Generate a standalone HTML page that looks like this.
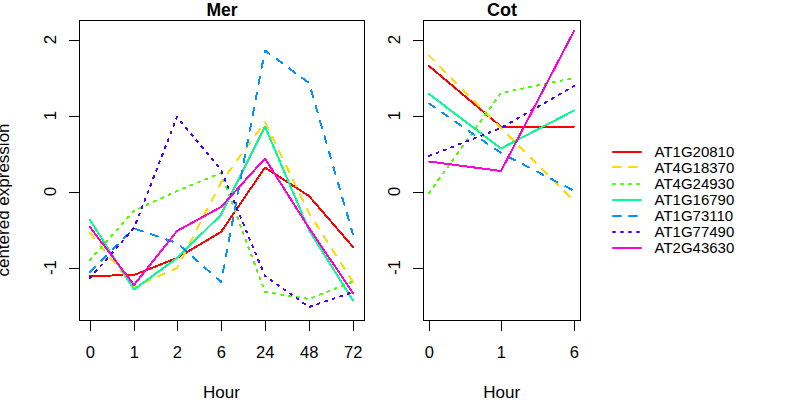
<!DOCTYPE html><html><head><meta charset="utf-8"><style>html,body{margin:0;padding:0;background:#fff;width:800px;height:400px;overflow:hidden}svg{display:block}text{font-family:"Liberation Sans",sans-serif}</style></head><body>
<svg width="800" height="400" viewBox="0 0 800 400">
<rect width="800" height="400" fill="#fff"/>
<polyline points="90,276 134,275 177,258 221,232 265,167.5 309,196 353,247" fill="none" stroke="#FF0000" stroke-width="2" stroke-linecap="round" stroke-linejoin="round" shape-rendering="crispEdges"/>
<polyline points="90,233 134,287 177,268 221,182.5 265,122 309,213 353,282" fill="none" stroke="#FFDB00" stroke-width="2" stroke-linecap="round" stroke-linejoin="round" stroke-dasharray="7 9" shape-rendering="crispEdges"/>
<polyline points="90,260 134,210.7 177,191 221,173 265,292 309,299 353,281.5" fill="none" stroke="#49FF00" stroke-width="2" stroke-linecap="round" stroke-linejoin="round" stroke-dasharray="2 6" shape-rendering="crispEdges"/>
<polyline points="90,220 134,289.5 177,258 221,214.75 265,126.5 309,230 353,300.5" fill="none" stroke="#00FF92" stroke-width="2" stroke-linecap="round" stroke-linejoin="round" shape-rendering="crispEdges"/>
<polyline points="90,272 134,228.5 177,243 221,282 265,50.5 309,83 353,234.5" fill="none" stroke="#0092FF" stroke-width="2" stroke-linecap="round" stroke-linejoin="round" stroke-dasharray="7 9" shape-rendering="crispEdges"/>
<polyline points="90,278 134,228 177,117 221,170 265,276 309,307 353,292" fill="none" stroke="#4900FF" stroke-width="2" stroke-linecap="round" stroke-linejoin="round" stroke-dasharray="2 6" shape-rendering="crispEdges"/>
<polyline points="90,227 134,285 177,231 221,207 265,158.5 309,228 353,293" fill="none" stroke="#FF00DB" stroke-width="2" stroke-linecap="round" stroke-linejoin="round" shape-rendering="crispEdges"/>
<polyline points="429,66 501,126.6 574,126.6" fill="none" stroke="#FF0000" stroke-width="2" stroke-linecap="round" stroke-linejoin="round" shape-rendering="crispEdges"/>
<polyline points="429,55.5 501,128 574,201" fill="none" stroke="#FFDB00" stroke-width="2" stroke-linecap="round" stroke-linejoin="round" stroke-dasharray="7 9" shape-rendering="crispEdges"/>
<polyline points="429,193 501,93 574,78" fill="none" stroke="#49FF00" stroke-width="2" stroke-linecap="round" stroke-linejoin="round" stroke-dasharray="2 6" shape-rendering="crispEdges"/>
<polyline points="429,94 501,148.5 574,110.5" fill="none" stroke="#00FF92" stroke-width="2" stroke-linecap="round" stroke-linejoin="round" shape-rendering="crispEdges"/>
<polyline points="429,103.5 501,153 574,190.7" fill="none" stroke="#0092FF" stroke-width="2" stroke-linecap="round" stroke-linejoin="round" stroke-dasharray="7 9" shape-rendering="crispEdges"/>
<polyline points="429,156 501,128 574,86" fill="none" stroke="#4900FF" stroke-width="2" stroke-linecap="round" stroke-linejoin="round" stroke-dasharray="2 6" shape-rendering="crispEdges"/>
<polyline points="429,161.5 501,171 574,31" fill="none" stroke="#FF00DB" stroke-width="2" stroke-linecap="round" stroke-linejoin="round" shape-rendering="crispEdges"/>
<g stroke="#000" stroke-width="1" fill="none" shape-rendering="crispEdges">
<rect x="79.5" y="20.5" width="285" height="300"/>
<rect x="423.5" y="20.5" width="157" height="300"/>
<line x1="69" y1="40.5" x2="79.5" y2="40.5"/>
<line x1="413" y1="40.5" x2="423.5" y2="40.5"/>
<line x1="69" y1="116.5" x2="79.5" y2="116.5"/>
<line x1="413" y1="116.5" x2="423.5" y2="116.5"/>
<line x1="69" y1="192.5" x2="79.5" y2="192.5"/>
<line x1="413" y1="192.5" x2="423.5" y2="192.5"/>
<line x1="69" y1="268.5" x2="79.5" y2="268.5"/>
<line x1="413" y1="268.5" x2="423.5" y2="268.5"/>
<line x1="90.5" y1="320.5" x2="90.5" y2="331"/>
<line x1="134.5" y1="320.5" x2="134.5" y2="331"/>
<line x1="177.5" y1="320.5" x2="177.5" y2="331"/>
<line x1="221.5" y1="320.5" x2="221.5" y2="331"/>
<line x1="265.5" y1="320.5" x2="265.5" y2="331"/>
<line x1="309.5" y1="320.5" x2="309.5" y2="331"/>
<line x1="353.5" y1="320.5" x2="353.5" y2="331"/>
<line x1="429.5" y1="320.5" x2="429.5" y2="331"/>
<line x1="501.5" y1="320.5" x2="501.5" y2="331"/>
<line x1="574.5" y1="320.5" x2="574.5" y2="331"/>
</g>
<g fill="#000" font-size="17">
<text x="90.25" y="358" text-anchor="middle" font-size="16.5">0</text>
<text x="134.25" y="358" text-anchor="middle" font-size="16.5">1</text>
<text x="177.25" y="358" text-anchor="middle" font-size="16.5">2</text>
<text x="221.25" y="358" text-anchor="middle" font-size="16.5">6</text>
<text x="265.25" y="358" text-anchor="middle" font-size="16.5">24</text>
<text x="309.25" y="358" text-anchor="middle" font-size="16.5">48</text>
<text x="353.25" y="358" text-anchor="middle" font-size="16.5">72</text>
<text x="429.25" y="358" text-anchor="middle" font-size="16.5">0</text>
<text x="501.25" y="358" text-anchor="middle" font-size="16.5">1</text>
<text x="574.25" y="358" text-anchor="middle" font-size="16.5">6</text>
<text transform="translate(56,39.5) rotate(-90)" text-anchor="middle">2</text>
<text transform="translate(400,39.5) rotate(-90)" text-anchor="middle">2</text>
<text transform="translate(56,115.5) rotate(-90)" text-anchor="middle">1</text>
<text transform="translate(400,115.5) rotate(-90)" text-anchor="middle">1</text>
<text transform="translate(56,191.5) rotate(-90)" text-anchor="middle">0</text>
<text transform="translate(400,191.5) rotate(-90)" text-anchor="middle">0</text>
<text transform="translate(56,267.5) rotate(-90)" text-anchor="middle">-1</text>
<text transform="translate(400,267.5) rotate(-90)" text-anchor="middle">-1</text>
<text x="221.5" y="398" text-anchor="middle">Hour</text>
<text x="501.75" y="398" text-anchor="middle">Hour</text>
<text transform="translate(9,200) rotate(-90)" text-anchor="middle">centered expression</text>
<text x="222" y="16" text-anchor="middle" font-weight="bold" font-size="17.5">Mer</text>
<text x="502" y="16" text-anchor="middle" font-weight="bold" font-size="18">Cot</text>
</g>
<line x1="613" y1="152" x2="641" y2="152" stroke="#FF0000" stroke-width="2" stroke-linecap="round"/>
<text x="654.5" y="157" font-size="15">AT1G20810</text>
<line x1="613" y1="167" x2="641" y2="167" stroke="#FFDB00" stroke-width="2" stroke-linecap="round" stroke-dasharray="8 8"/>
<text x="654.5" y="173" font-size="15">AT4G18370</text>
<line x1="613" y1="184" x2="641" y2="184" stroke="#49FF00" stroke-width="2" stroke-linecap="round" stroke-dasharray="2 6"/>
<text x="654.5" y="189" font-size="15">AT4G24930</text>
<line x1="613" y1="200" x2="641" y2="200" stroke="#00FF92" stroke-width="2" stroke-linecap="round"/>
<text x="654.5" y="205" font-size="15">AT1G16790</text>
<line x1="613" y1="216" x2="641" y2="216" stroke="#0092FF" stroke-width="2" stroke-linecap="round" stroke-dasharray="8 8"/>
<text x="654.5" y="221" font-size="15">AT1G73110</text>
<line x1="613" y1="232" x2="641" y2="232" stroke="#4900FF" stroke-width="2" stroke-linecap="round" stroke-dasharray="2 6"/>
<text x="654.5" y="237" font-size="15">AT1G77490</text>
<line x1="613" y1="248" x2="641" y2="248" stroke="#FF00DB" stroke-width="2" stroke-linecap="round"/>
<text x="654.5" y="253" font-size="15">AT2G43630</text>
</svg></body></html>
